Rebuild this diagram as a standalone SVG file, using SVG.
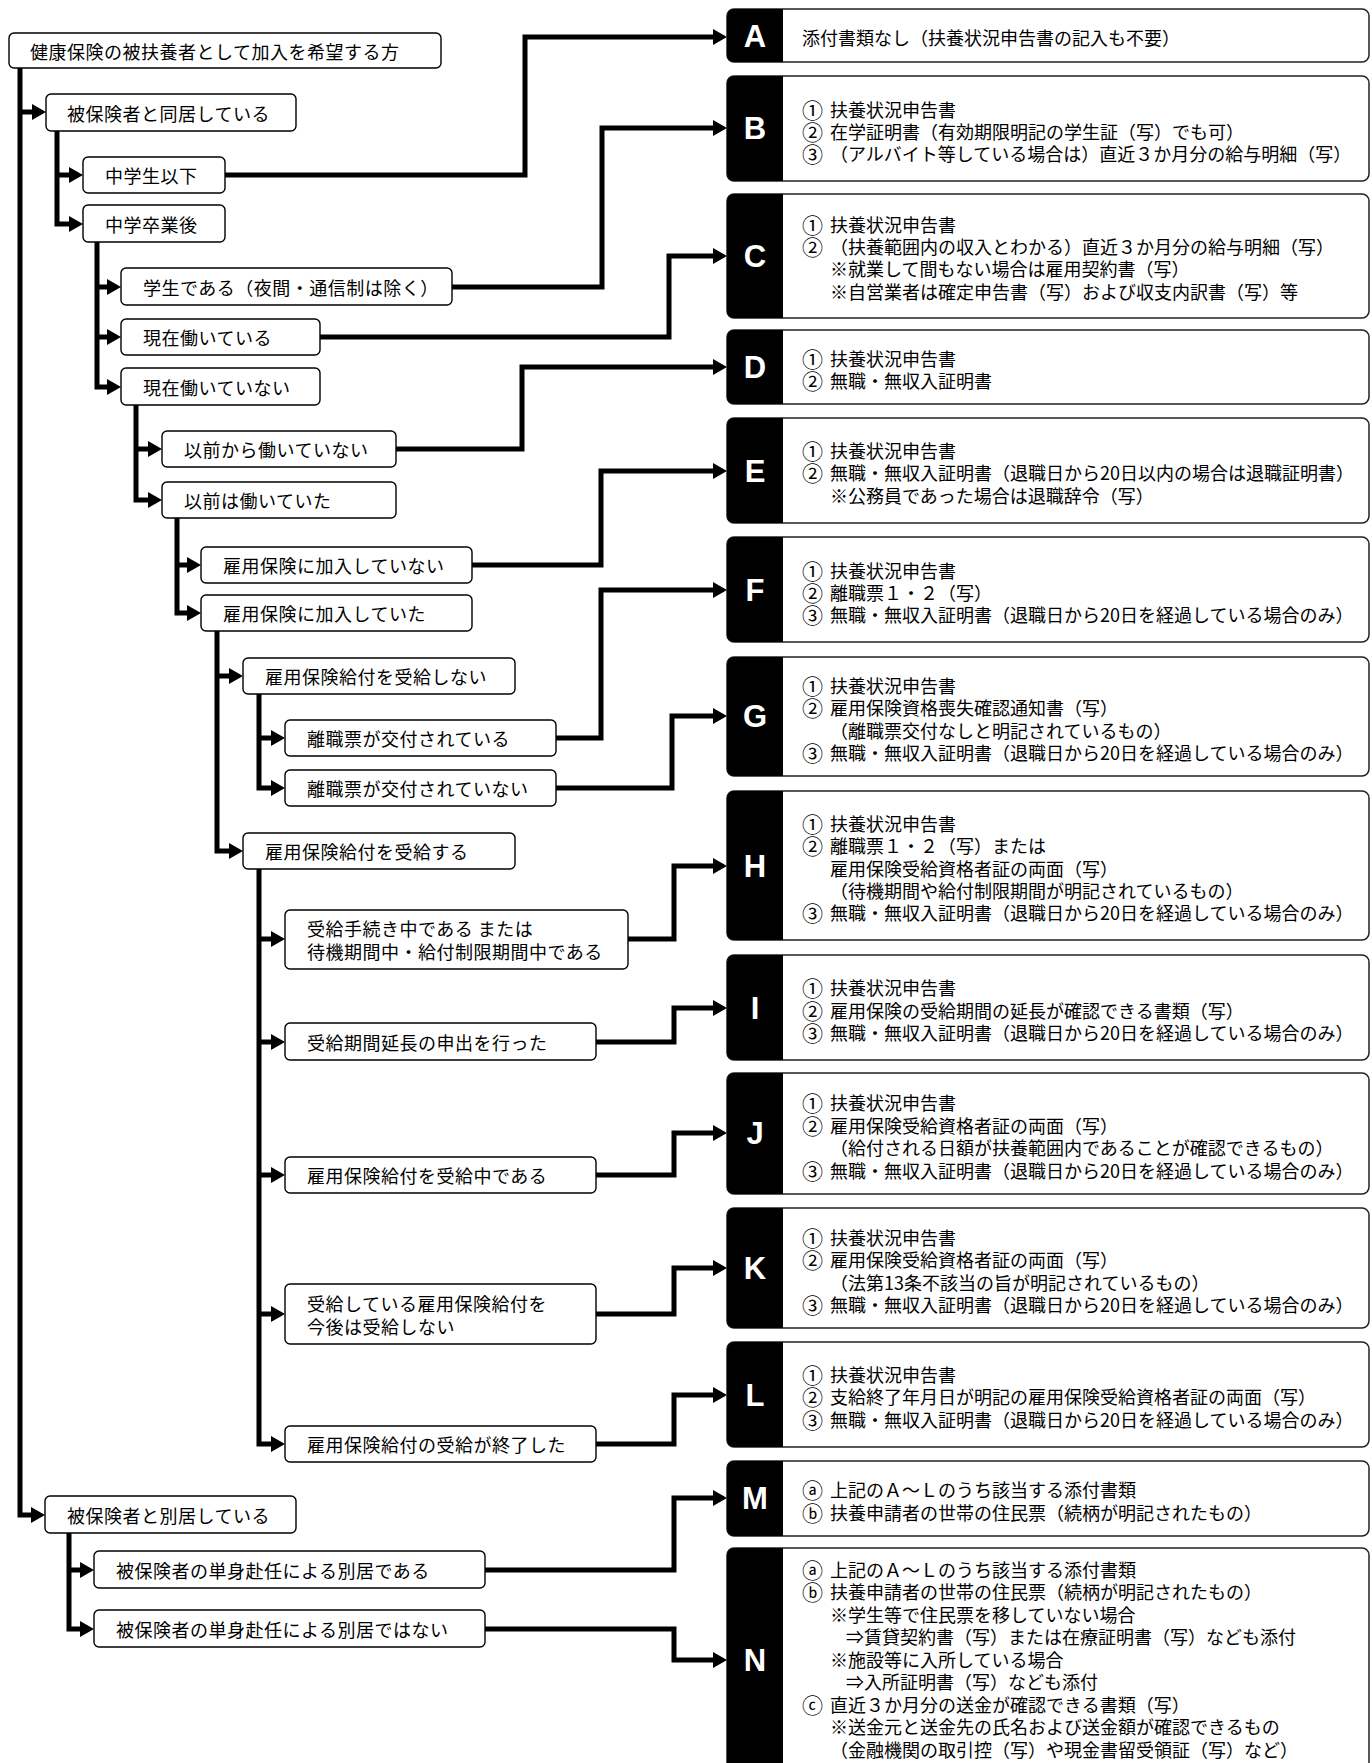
<svg xmlns="http://www.w3.org/2000/svg" width="1372" height="1763" viewBox="0 0 1372 1763">
<defs>
<style>
.box{fill:#fff;stroke:#000;stroke-width:1.4}
.frame{fill:#fff;stroke:#222;stroke-width:1.5}
.tab{fill:#000}
.lt{font-family:"Noto Sans CJK JP","Noto Sans",sans-serif;font-size:18px;letter-spacing:0.5px;fill:#000;dominant-baseline:central}
.rt{font-family:"Noto Sans CJK JP","Noto Sans",sans-serif;font-size:18px;fill:#000;dominant-baseline:central}
.num{font-size:21px}
.letter{font-family:"Liberation Sans",Arial,sans-serif;font-weight:bold;font-size:31px;fill:#fff;text-anchor:middle}
.conn{fill:none;stroke:#000;stroke-width:5;stroke-linejoin:miter}
</style>
<marker id="arr" markerUnits="userSpaceOnUse" markerWidth="14" markerHeight="16" refX="2" refY="8" orient="auto">
<path d="M0,0 L14,8 L0,16 Z" fill="#000"/>
</marker>
</defs>
<rect width="1372" height="1763" fill="#fff"/>

<g id="connectors" class="conn" marker-end="url(#arr)">
<path d="M20,68 V1515 H33"/>
<path d="M20,112 H34"/>
<path d="M57,131 V224 H71"/>
<path d="M57,175 H71"/>
<path d="M97,242 V387 H109"/>
<path d="M97,287 H109"/>
<path d="M97,337 H109"/>
<path d="M136,405 V500 H150"/>
<path d="M136,449 H150"/>
<path d="M177,518 V613 H189"/>
<path d="M177,565 H189"/>
<path d="M217,631 V851 H231"/>
<path d="M217,676 H231"/>
<path d="M259,694 V788 H273"/>
<path d="M259,738 H273"/>
<path d="M259,869 V1444 H273"/>
<path d="M259,939 H273"/>
<path d="M259,1042 H273"/>
<path d="M259,1175 H273"/>
<path d="M259,1314 H273"/>
<path d="M69,1533 V1629 H82"/>
<path d="M69,1570 H82"/>
<path d="M225,175 H525 V37 H715"/>
<path d="M452,287 H602 V128 H715"/>
<path d="M320,337 H669 V256 H715"/>
<path d="M396,449 H522 V367 H715"/>
<path d="M472,565 H601 V471 H715"/>
<path d="M556,738 H601 V590 H715"/>
<path d="M556,788 H672 V716 H715"/>
<path d="M628,939 H674 V866 H715"/>
<path d="M596,1042 H674 V1008 H715"/>
<path d="M596,1175 H674 V1133 H715"/>
<path d="M596,1314 H674 V1268 H715"/>
<path d="M596,1444 H674 V1395 H715"/>
<path d="M485,1570 H674 V1498 H715"/>
<path d="M485,1629 H674 V1660 H715"/>
</g>

<g id="n1"><rect class="box" x="9" y="33" width="432" height="35" rx="5"/><text class="lt" x="30" y="51">健康保険の被扶養者として加入を希望する方</text></g>
<g id="n2"><rect class="box" x="46" y="94" width="250" height="37" rx="5"/><text class="lt" x="67" y="113">被保険者と同居している</text></g>
<g id="n3"><rect class="box" x="83" y="157" width="142" height="36" rx="5"/><text class="lt" x="105" y="175">中学生以下</text></g>
<g id="n4"><rect class="box" x="83" y="205" width="142" height="37" rx="5"/><text class="lt" x="105" y="224">中学卒業後</text></g>
<g id="n5"><rect class="box" x="121" y="268" width="331" height="37" rx="5"/><text class="lt" x="143" y="287">学生である（夜間・通信制は除く）</text></g>
<g id="n6"><rect class="box" x="121" y="319" width="199" height="36" rx="5"/><text class="lt" x="143" y="337">現在働いている</text></g>
<g id="n7"><rect class="box" x="121" y="368" width="199" height="37" rx="5"/><text class="lt" x="143" y="387">現在働いていない</text></g>
<g id="n8"><rect class="box" x="162" y="431" width="234" height="36" rx="5"/><text class="lt" x="184" y="449">以前から働いていない</text></g>
<g id="n9"><rect class="box" x="162" y="482" width="234" height="36" rx="5"/><text class="lt" x="184" y="500">以前は働いていた</text></g>
<g id="n10"><rect class="box" x="201" y="547" width="271" height="36" rx="5"/><text class="lt" x="223" y="565">雇用保険に加入していない</text></g>
<g id="n11"><rect class="box" x="201" y="595" width="271" height="36" rx="5"/><text class="lt" x="223" y="613">雇用保険に加入していた</text></g>
<g id="n12"><rect class="box" x="243" y="658" width="272" height="36" rx="5"/><text class="lt" x="265" y="676">雇用保険給付を受給しない</text></g>
<g id="n13"><rect class="box" x="285" y="720" width="271" height="36" rx="5"/><text class="lt" x="307" y="738">離職票が交付されている</text></g>
<g id="n14"><rect class="box" x="285" y="770" width="271" height="36" rx="5"/><text class="lt" x="307" y="788">離職票が交付されていない</text></g>
<g id="n15"><rect class="box" x="243" y="833" width="272" height="36" rx="5"/><text class="lt" x="265" y="851">雇用保険給付を受給する</text></g>
<g id="n16"><rect class="box" x="285" y="910" width="343" height="59" rx="5"/><text class="lt"><tspan x="307" y="928">受給手続き中である または</tspan><tspan x="307" y="951">待機期間中・給付制限期間中である</tspan></text></g>
<g id="n17"><rect class="box" x="285" y="1023" width="311" height="37" rx="5"/><text class="lt" x="307" y="1042">受給期間延長の申出を行った</text></g>
<g id="n18"><rect class="box" x="285" y="1157" width="311" height="36" rx="5"/><text class="lt" x="307" y="1175">雇用保険給付を受給中である</text></g>
<g id="n19"><rect class="box" x="285" y="1284" width="311" height="60" rx="5"/><text class="lt"><tspan x="307" y="1303">受給している雇用保険給付を</tspan><tspan x="307" y="1326">今後は受給しない</tspan></text></g>
<g id="n20"><rect class="box" x="285" y="1426" width="311" height="36" rx="5"/><text class="lt" x="307" y="1444">雇用保険給付の受給が終了した</text></g>
<g id="n21"><rect class="box" x="45" y="1496" width="251" height="37" rx="5"/><text class="lt" x="67" y="1515">被保険者と別居している</text></g>
<g id="n22"><rect class="box" x="94" y="1551" width="391" height="37" rx="5"/><text class="lt" x="116" y="1570">被保険者の単身赴任による別居である</text></g>
<g id="n23"><rect class="box" x="94" y="1610" width="391" height="37" rx="5"/><text class="lt" x="116" y="1629">被保険者の単身赴任による別居ではない</text></g>

<g id="A"><rect class="frame" x="727" y="9" width="642" height="53" rx="7"/><path class="tab" d="M734,9 H783 V62 H734 A7,7 0 0 1 727,55 V16 A7,7 0 0 1 734,9 Z"/><text class="letter" x="755" y="47">A</text>
<text class="rt" x="802" y="37">添付書類なし（扶養状況申告書の記入も不要）</text></g>

<g id="B"><rect class="frame" x="727" y="76" width="642" height="105" rx="7"/><path class="tab" d="M734,76 H783 V181 H734 A7,7 0 0 1 727,174 V83 A7,7 0 0 1 734,76 Z"/><text class="letter" x="755" y="139">B</text>
<text class="rt"><tspan class="num" x="802" y="109">①</tspan><tspan x="830" y="109">扶養状況申告書</tspan><tspan class="num" x="802" y="131">②</tspan><tspan x="830" y="131">在学証明書（有効期限明記の学生証（写）でも可）</tspan><tspan class="num" x="802" y="153">③</tspan><tspan x="830" y="153">（アルバイト等している場合は）直近３か月分の給与明細（写）</tspan></text></g>

<g id="C"><rect class="frame" x="727" y="194" width="642" height="124" rx="7"/><path class="tab" d="M734,194 H783 V318 H734 A7,7 0 0 1 727,311 V201 A7,7 0 0 1 734,194 Z"/><text class="letter" x="755" y="267">C</text>
<text class="rt"><tspan class="num" x="802" y="224">①</tspan><tspan x="830" y="224">扶養状況申告書</tspan><tspan class="num" x="802" y="246">②</tspan><tspan x="830" y="246">（扶養範囲内の収入とわかる）直近３か月分の給与明細（写）</tspan><tspan x="830" y="268">※就業して間もない場合は雇用契約書（写）</tspan><tspan x="830" y="291">※自営業者は確定申告書（写）および収支内訳書（写）等</tspan></text></g>

<g id="D"><rect class="frame" x="727" y="330" width="642" height="74" rx="7"/><path class="tab" d="M734,330 H783 V404 H734 A7,7 0 0 1 727,397 V337 A7,7 0 0 1 734,330 Z"/><text class="letter" x="755" y="378">D</text>
<text class="rt"><tspan class="num" x="802" y="358">①</tspan><tspan x="830" y="358">扶養状況申告書</tspan><tspan class="num" x="802" y="380">②</tspan><tspan x="830" y="380">無職・無収入証明書</tspan></text></g>

<g id="E"><rect class="frame" x="727" y="418" width="642" height="105" rx="7"/><path class="tab" d="M734,418 H783 V523 H734 A7,7 0 0 1 727,516 V425 A7,7 0 0 1 734,418 Z"/><text class="letter" x="755" y="482">E</text>
<text class="rt"><tspan class="num" x="802" y="450">①</tspan><tspan x="830" y="450">扶養状況申告書</tspan><tspan class="num" x="802" y="472">②</tspan><tspan x="830" y="472">無職・無収入証明書（退職日から20日以内の場合は退職証明書）</tspan><tspan x="830" y="495">※公務員であった場合は退職辞令（写）</tspan></text></g>

<g id="F"><rect class="frame" x="727" y="537" width="642" height="105" rx="7"/><path class="tab" d="M734,537 H783 V642 H734 A7,7 0 0 1 727,635 V544 A7,7 0 0 1 734,537 Z"/><text class="letter" x="755" y="601">F</text>
<text class="rt"><tspan class="num" x="802" y="570">①</tspan><tspan x="830" y="570">扶養状況申告書</tspan><tspan class="num" x="802" y="592">②</tspan><tspan x="830" y="592">離職票１・２（写）</tspan><tspan class="num" x="802" y="614">③</tspan><tspan x="830" y="614">無職・無収入証明書（退職日から20日を経過している場合のみ）</tspan></text></g>

<g id="G"><rect class="frame" x="727" y="657" width="642" height="119" rx="7"/><path class="tab" d="M734,657 H783 V776 H734 A7,7 0 0 1 727,769 V664 A7,7 0 0 1 734,657 Z"/><text class="letter" x="755" y="727">G</text>
<text class="rt"><tspan class="num" x="802" y="685">①</tspan><tspan x="830" y="685">扶養状況申告書</tspan><tspan class="num" x="802" y="707">②</tspan><tspan x="830" y="707">雇用保険資格喪失確認通知書（写）</tspan><tspan x="830" y="730">（離職票交付なしと明記されているもの）</tspan><tspan class="num" x="802" y="752">③</tspan><tspan x="830" y="752">無職・無収入証明書（退職日から20日を経過している場合のみ）</tspan></text></g>

<g id="H"><rect class="frame" x="727" y="791" width="642" height="149" rx="7"/><path class="tab" d="M734,791 H783 V940 H734 A7,7 0 0 1 727,933 V798 A7,7 0 0 1 734,791 Z"/><text class="letter" x="755" y="877">H</text>
<text class="rt"><tspan class="num" x="802" y="823">①</tspan><tspan x="830" y="823">扶養状況申告書</tspan><tspan class="num" x="802" y="845">②</tspan><tspan x="830" y="845">離職票１・２（写）または</tspan><tspan x="830" y="868">雇用保険受給資格者証の両面（写）</tspan><tspan x="830" y="890">（待機期間や給付制限期間が明記されているもの）</tspan><tspan class="num" x="802" y="912">③</tspan><tspan x="830" y="912">無職・無収入証明書（退職日から20日を経過している場合のみ）</tspan></text></g>

<g id="I"><rect class="frame" x="727" y="955" width="642" height="105" rx="7"/><path class="tab" d="M734,955 H783 V1060 H734 A7,7 0 0 1 727,1053 V962 A7,7 0 0 1 734,955 Z"/><text class="letter" x="755" y="1019">I</text>
<text class="rt"><tspan class="num" x="802" y="987">①</tspan><tspan x="830" y="987">扶養状況申告書</tspan><tspan class="num" x="802" y="1010">②</tspan><tspan x="830" y="1010">雇用保険の受給期間の延長が確認できる書類（写）</tspan><tspan class="num" x="802" y="1032">③</tspan><tspan x="830" y="1032">無職・無収入証明書（退職日から20日を経過している場合のみ）</tspan></text></g>

<g id="J"><rect class="frame" x="727" y="1073" width="642" height="121" rx="7"/><path class="tab" d="M734,1073 H783 V1194 H734 A7,7 0 0 1 727,1187 V1080 A7,7 0 0 1 734,1073 Z"/><text class="letter" x="755" y="1144">J</text>
<text class="rt"><tspan class="num" x="802" y="1102">①</tspan><tspan x="830" y="1102">扶養状況申告書</tspan><tspan class="num" x="802" y="1125">②</tspan><tspan x="830" y="1125">雇用保険受給資格者証の両面（写）</tspan><tspan x="830" y="1147">（給付される日額が扶養範囲内であることが確認できるもの）</tspan><tspan class="num" x="802" y="1170">③</tspan><tspan x="830" y="1170">無職・無収入証明書（退職日から20日を経過している場合のみ）</tspan></text></g>

<g id="K"><rect class="frame" x="727" y="1208" width="642" height="120" rx="7"/><path class="tab" d="M734,1208 H783 V1328 H734 A7,7 0 0 1 727,1321 V1215 A7,7 0 0 1 734,1208 Z"/><text class="letter" x="755" y="1279">K</text>
<text class="rt"><tspan class="num" x="802" y="1237">①</tspan><tspan x="830" y="1237">扶養状況申告書</tspan><tspan class="num" x="802" y="1259">②</tspan><tspan x="830" y="1259">雇用保険受給資格者証の両面（写）</tspan><tspan x="830" y="1282">（法第13条不該当の旨が明記されているもの）</tspan><tspan class="num" x="802" y="1304">③</tspan><tspan x="830" y="1304">無職・無収入証明書（退職日から20日を経過している場合のみ）</tspan></text></g>

<g id="L"><rect class="frame" x="727" y="1342" width="642" height="105" rx="7"/><path class="tab" d="M734,1342 H783 V1447 H734 A7,7 0 0 1 727,1440 V1349 A7,7 0 0 1 734,1342 Z"/><text class="letter" x="755" y="1406">L</text>
<text class="rt"><tspan class="num" x="802" y="1374">①</tspan><tspan x="830" y="1374">扶養状況申告書</tspan><tspan class="num" x="802" y="1396">②</tspan><tspan x="830" y="1396">支給終了年月日が明記の雇用保険受給資格者証の両面（写）</tspan><tspan class="num" x="802" y="1419">③</tspan><tspan x="830" y="1419">無職・無収入証明書（退職日から20日を経過している場合のみ）</tspan></text></g>

<g id="M"><rect class="frame" x="727" y="1461" width="642" height="75" rx="7"/><path class="tab" d="M734,1461 H783 V1536 H734 A7,7 0 0 1 727,1529 V1468 A7,7 0 0 1 734,1461 Z"/><text class="letter" x="755" y="1509">M</text>
<text class="rt"><tspan class="num" x="802" y="1489">ⓐ</tspan><tspan x="830" y="1489">上記のＡ～Ｌのうち該当する添付書類</tspan><tspan class="num" x="802" y="1512">ⓑ</tspan><tspan x="830" y="1512">扶養申請者の世帯の住民票（続柄が明記されたもの）</tspan></text></g>

<g id="N"><rect class="frame" x="727" y="1548" width="642" height="250" rx="7"/><path class="tab" d="M734,1548 H783 V1798 H727 V1555 A7,7 0 0 1 734,1548 Z"/><text class="letter" x="755" y="1671">N</text>
<text class="rt"><tspan class="num" x="802" y="1569">ⓐ</tspan><tspan x="830" y="1569">上記のＡ～Ｌのうち該当する添付書類</tspan><tspan class="num" x="802" y="1591">ⓑ</tspan><tspan x="830" y="1591">扶養申請者の世帯の住民票（続柄が明記されたもの）</tspan><tspan x="830" y="1614">※学生等で住民票を移していない場合</tspan><tspan x="846" y="1636">⇒賃貸契約書（写）または在療証明書（写）なども添付</tspan><tspan x="830" y="1659">※施設等に入所している場合</tspan><tspan x="846" y="1681">⇒入所証明書（写）なども添付</tspan><tspan class="num" x="802" y="1704">ⓒ</tspan><tspan x="830" y="1704">直近３か月分の送金が確認できる書類（写）</tspan><tspan x="830" y="1726">※送金元と送金先の氏名および送金額が確認できるもの</tspan><tspan x="830" y="1749">（金融機関の取引控（写）や現金書留受領証（写）など）</tspan></text></g>
</svg>
